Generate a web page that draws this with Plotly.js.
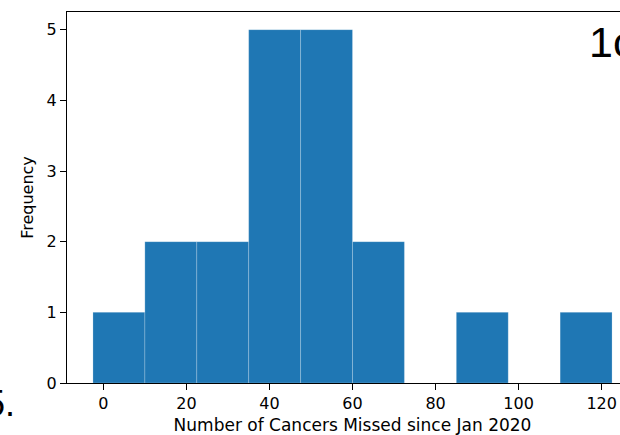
<!DOCTYPE html>
<html>
<head>
<meta charset="utf-8">
<script src="https://cdn.plot.ly/plotly-3.0.1.min.js"></script>
<style>
  html, body { margin: 0; padding: 0; overflow: hidden; background: #fff; }
  #chart { position: absolute; left: -40px; top: 0; }
</style>
</head>
<body>
<div id="chart"></div>
<script>
// Histogram of missed cancers: bin left edges and counts per bin
const binLeftEdges = [-2.5, 10, 22.5, 35, 47.5, 60, 72.5, 85, 97.5, 110];
const binCounts    = [1, 2, 2, 5, 5, 2, 0, 1, 0, 1];
const binWidth = 12.5;

const xTicks = [0, 20, 40, 60, 80, 100, 120];
const yTicks = [0, 1, 2, 3, 4, 5];

const xLabel = 'Number of Cancers Missed since Jan 2020';
const yLabel = 'Frequency';

const tickFont  = { family: 'DejaVu Sans', size: 16, color: '#000' };
const labelFont = { family: 'DejaVu Sans', size: 17, color: '#000' };

const trace = {
  type: 'bar',
  x: binLeftEdges,
  y: binCounts,
  width: binLeftEdges.map(() => binWidth),
  offset: 0,
  marker: {
    color: '#1f77b4',
    line: { color: 'rgba(255,255,255,0.3)', width: 0.7 }
  },
  hoverinfo: 'x+y'
};

const layout = {
  width: 700,
  height: 435,
  margin: { l: 107, r: 22.4, t: 12, b: 52 },
  paper_bgcolor: '#fff',
  plot_bgcolor: '#fff',
  showlegend: false,
  bargap: 0,
  xaxis: {
    range: [-8.75, 128.75],
    tickvals: xTicks,
    ticktext: xTicks.map(String),
    ticks: 'outside',
    ticklen: 6,
    tickwidth: 1,
    tickcolor: '#000',
    showgrid: false,
    zeroline: false,
    showline: true,
    mirror: true,
    linecolor: '#000',
    linewidth: 1.2,
    tickfont: tickFont,
    title: { text: xLabel, font: labelFont, standoff: 6 }
  },
  yaxis: {
    range: [0, 5.25],
    tickvals: yTicks,
    ticktext: yTicks.map(String),
    ticks: 'outside',
    ticklen: 6,
    tickwidth: 1,
    tickcolor: '#000',
    showgrid: false,
    zeroline: false,
    showline: true,
    linecolor: '#000',
    linewidth: 1.2,
    tickfont: tickFont,
    title: { text: yLabel, font: tickFont, standoff: 8 }
  },
  annotations: [
    {
      text: '1c', xref: 'paper', yref: 'paper',
      x: 0.911, y: 0.918, xanchor: 'left', yanchor: 'middle',
      showarrow: false,
      font: { family: 'Liberation Sans', size: 43, color: '#000' }
    },
    {
      text: '5.', xref: 'paper', yref: 'paper',
      x: -0.0876, y: -0.054, xanchor: 'right', yanchor: 'middle',
      showarrow: false,
      font: { family: 'Liberation Sans', size: 36, color: '#000' }
    }
  ]
};

Plotly.newPlot('chart', [trace], layout, { staticPlot: true, displayModeBar: false });
</script>
</body>
</html>
